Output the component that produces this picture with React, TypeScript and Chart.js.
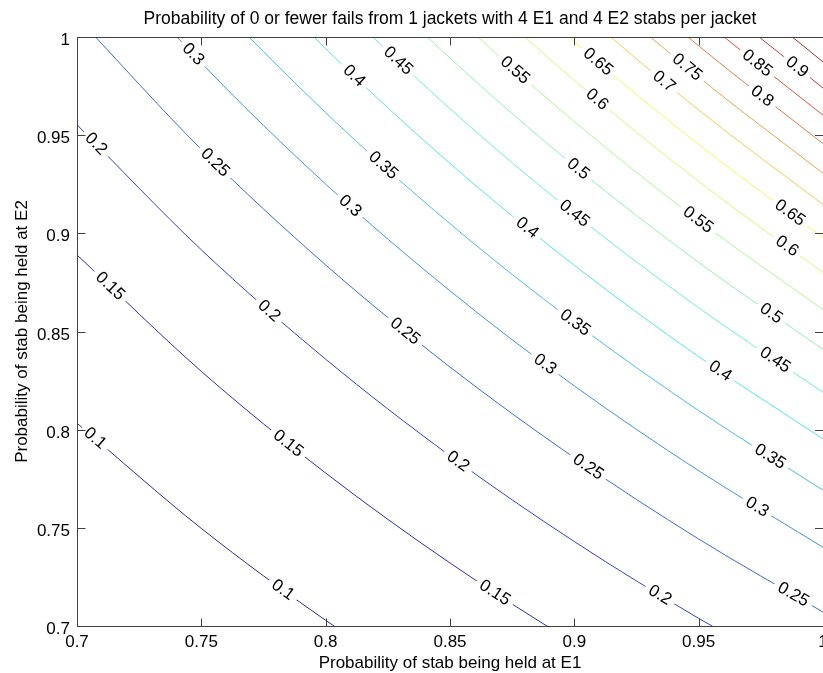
import React, { useEffect, useRef } from "react";
import { Chart, registerables } from "chart.js";

Chart.register(...registerables);

const TITLE = "Probability of 0 or fewer fails from 1 jackets with 4 E1 and 4 E2 stabs per jacket";
const X_TITLE = "Probability of stab being held at E1";
const Y_TITLE = "Probability of stab being held at E2";

const xTicks = [0.7, 0.75, 0.8, 0.85, 0.9, 0.95, 1];
const yTicks = [0.7, 0.75, 0.8, 0.85, 0.9, 0.95, 1];
const xTickLabels = ["0.7", "0.75", "0.8", "0.85", "0.9", "0.95", "1"];
const yTickLabels = ["0.7", "0.75", "0.8", "0.85", "0.9", "0.95", "1"];

// x positions (E1) at which each contour's E2 value was read
const xSamples = [0.7, 0.75, 0.8, 0.85, 0.9, 0.95, 1.0];

const levels = [0.1, 0.15, 0.2, 0.25, 0.3, 0.35, 0.4, 0.45, 0.5, 0.55, 0.6, 0.65, 0.7, 0.75, 0.8, 0.85, 0.9, 0.95];

// E2 value of each contour at the xSamples (values above 1 / below 0.7 lie outside the frame)
const c010 = [0.8033, 0.7497, 0.7029, 0.6615, 0.6248, 0.5919, 0.5623];
const c015 = [0.889, 0.8297, 0.7779, 0.7321, 0.6914, 0.6551, 0.6223];
const c020 = [0.9553, 0.8916, 0.8359, 0.7867, 0.743, 0.7039, 0.6687];
const c025 = [1.0101, 0.9428, 0.8839, 0.8319, 0.7857, 0.7443, 0.7071];
const c030 = [1.0573, 0.9868, 0.9251, 0.8707, 0.8223, 0.7791, 0.7401];
const c035 = [1.0989, 1.0256, 0.9615, 0.9049, 0.8547, 0.8097, 0.7692];
const c040 = [1.1361, 1.0604, 0.9941, 0.9356, 0.8837, 0.8372, 0.7953];
const c045 = [1.17, 1.092, 1.0238, 0.9635, 0.91, 0.8621, 0.819];
const c050 = [1.2013, 1.1212, 1.0511, 0.9893, 0.9343, 0.8852, 0.8409];
const c055 = [1.2303, 1.1483, 1.0765, 1.0132, 0.9569, 0.9065, 0.8612];
const c060 = [1.2573, 1.1735, 1.1001, 1.0354, 0.9779, 0.9264, 0.8801];
const c065 = [1.2827, 1.1972, 1.1224, 1.0564, 0.9977, 0.9452, 0.8979];
const c070 = [1.3067, 1.2196, 1.1434, 1.0761, 1.0163, 0.9628, 0.9147];
const c075 = [1.3294, 1.2408, 1.1633, 1.0948, 1.034, 0.9796, 0.9306];
const c080 = [1.351, 1.2609, 1.1821, 1.1126, 1.0508, 0.9955, 0.9457];
const c085 = [1.3717, 1.2803, 1.2003, 1.1296, 1.0669, 1.0107, 0.9602];
const c090 = [1.3914, 1.2987, 1.2175, 1.1459, 1.0822, 1.0253, 0.974];
const c095 = [1.4104, 1.3164, 1.2341, 1.1615, 1.097, 1.0393, 0.9873];
const contourValues = [c010, c015, c020, c025, c030, c035, c040, c045, c050, c055, c060, c065, c070, c075, c080, c085, c090, c095];

// inline contour labels: level and E1 position of label centre
const labelLevels = [
  0.3, 0.45, 0.55, 0.65, 0.75, 0.85, 0.9, 0.4, 0.6, 0.7, 0.8,
  0.2, 0.25, 0.35, 0.5, 0.45, 0.55, 0.65, 0.6, 0.3, 0.4,
  0.15, 0.2, 0.25, 0.35, 0.5, 0.45, 0.3, 0.4,
  0.1, 0.15, 0.2, 0.25, 0.35, 0.3,
  0.1, 0.15, 0.2, 0.25,
];
const labelX = [
  0.7467, 0.8291, 0.8761, 0.9095, 0.9453, 0.9735, 0.9895, 0.8114, 0.9091, 0.936, 0.9755,
  0.7076, 0.7555, 0.8231, 0.9015, 0.9, 0.9497, 0.9867, 0.9855, 0.8098, 0.881,
  0.7133, 0.7772, 0.8319, 0.9003, 0.9791, 0.9807, 0.8882, 0.9586,
  0.7072, 0.7849, 0.8532, 0.9055, 0.9787, 0.9735,
  0.7828, 0.868, 0.9344, 0.988,
];

const Z_MIN = 0.0576;
const Z_MAX = 1;

function jet(v: number): string {
  const c = (t: number) => Math.max(0, Math.min(1, t));
  const r = c(1.5 - Math.abs(4 * v - 3)) * 255;
  const g = c(1.5 - Math.abs(4 * v - 2)) * 255;
  const b = c(1.5 - Math.abs(4 * v - 1)) * 255;
  // thin 1px lines in the reference look a little washed out: desaturate slightly, lighten a little
  const lum = 0.299 * r + 0.587 * g + 0.114 * b;
  const f = (k: number) => Math.round((lum + (k - lum) * 0.7) * 0.85 + 255 * 0.15);
  return `rgb(${f(r)},${f(g)},${f(b)})`;
}

const FONT = '"Liberation Sans", Arial, Helvetica, sans-serif';

const decorPlugin = {
  id: "decor",
  afterDatasetsDraw(chart: any) {
    const ctx: CanvasRenderingContext2D = chart.ctx;
    const { left, right, top, bottom } = chart.chartArea;
    const xs = chart.scales.x;
    const ys = chart.scales.y;
    ctx.save();

    // contour labels
    ctx.font = `17px ${FONT}`;
    labelLevels.forEach((lv, k) => {
      const di = levels.indexOf(lv);
      const pts: any[] = chart.getDatasetMeta(di).data;
      const px = xs.getPixelForValue(labelX[k]);
      let j = 0;
      while (j < pts.length - 2 && pts[j + 1].x < px) j++;
      const a = pts[j];
      const b = pts[j + 1];
      const P0 = [a.x, a.y];
      const P1 = [a.cp2x ?? a.x + (b.x - a.x) / 3, a.cp2y ?? a.y + (b.y - a.y) / 3];
      const P2 = [b.cp1x ?? b.x - (b.x - a.x) / 3, b.cp1y ?? b.y - (b.y - a.y) / 3];
      const P3 = [b.x, b.y];
      const bz = (t: number, i: number) =>
        (1 - t) ** 3 * P0[i] + 3 * (1 - t) ** 2 * t * P1[i] + 3 * (1 - t) * t * t * P2[i] + t ** 3 * P3[i];
      const dbz = (t: number, i: number) =>
        3 * (1 - t) ** 2 * (P1[i] - P0[i]) + 6 * (1 - t) * t * (P2[i] - P1[i]) + 3 * t * t * (P3[i] - P2[i]);
      let lo = 0;
      let hi = 1;
      for (let it = 0; it < 50; it++) {
        const mid = (lo + hi) / 2;
        if (bz(mid, 0) < px) lo = mid;
        else hi = mid;
      }
      const t = (lo + hi) / 2;
      const py = bz(t, 1);
      const ang = Math.atan2(dbz(t, 1), dbz(t, 0));
      const text = String(lv);
      const w = ctx.measureText(text).width;
      ctx.save();
      ctx.translate(px, py);
      ctx.rotate(ang);
      ctx.fillStyle = "#ffffff";
      ctx.fillRect(-w / 2 - 5, -6, w + 10, 12);
      ctx.fillStyle = "#000000";
      ctx.textAlign = "center";
      ctx.textBaseline = "middle";
      ctx.fillText(text, 0, 0);
      ctx.restore();
    });

    // axes box and ticks
    ctx.strokeStyle = "#404040";
    ctx.lineWidth = 1;
    const L = Math.round(left) + 0.5;
    const R = Math.round(right) - 0.5;
    const T = Math.round(top) + 0.5;
    const B = Math.round(bottom) + 0.5;
    ctx.beginPath();
    ctx.moveTo(L, T);
    ctx.lineTo(R + 1, T);
    ctx.moveTo(L, B);
    ctx.lineTo(R + 1, B);
    ctx.moveTo(L, T);
    ctx.lineTo(L, B);
    const TL = 8;
    xTicks.forEach((v) => {
      const x = Math.round(xs.getPixelForValue(v)) + 0.5;
      ctx.moveTo(x, B);
      ctx.lineTo(x, B - TL);
      ctx.moveTo(x, T);
      ctx.lineTo(x, T + TL);
    });
    yTicks.forEach((v) => {
      const y = Math.round(ys.getPixelForValue(v)) + 0.5;
      ctx.moveTo(L, y);
      ctx.lineTo(L + TL, y);
      ctx.moveTo(right, y);
      ctx.lineTo(right - TL, y);
    });
    ctx.stroke();

    ctx.fillStyle = "#000000";
    ctx.font = `17px ${FONT}`;
    ctx.textBaseline = "alphabetic";
    ctx.textAlign = "center";
    xTicks.forEach((v, i) => {
      ctx.fillText(xTickLabels[i], xs.getPixelForValue(v), 647);
    });
    ctx.textAlign = "right";
    yTicks.forEach((v, i) => {
      ctx.fillText(yTickLabels[i], 70, ys.getPixelForValue(v) + 8);
    });

    ctx.textAlign = "center";
    ctx.fillText(X_TITLE, (left + right) / 2, 668);
    ctx.font = `17.5px ${FONT}`;
    ctx.fillText(TITLE, (left + right) / 2, 24);
    ctx.font = `17px ${FONT}`;
    ctx.save();
    ctx.translate(27, (top + bottom) / 2);
    ctx.rotate(-Math.PI / 2);
    ctx.fillText(Y_TITLE, 0, 0);
    ctx.restore();

    ctx.restore();
  },
};

export default function App() {
  const ref = useRef<HTMLCanvasElement | null>(null);
  useEffect(() => {
    if (!ref.current) return;
    const datasets = levels.map((lv, i) => ({
      label: String(lv),
      data: xSamples.map((x, k) => ({ x, y: contourValues[i][k] })),
      borderColor: jet((lv - Z_MIN) / (Z_MAX - Z_MIN)),
      borderWidth: 1,
      pointRadius: 0,
      fill: false,
      cubicInterpolationMode: "monotone" as const,
      capBezierPoints: false,
      clip: 0,
    }));
    const chart = new Chart(ref.current, {
      type: "line",
      data: { datasets },
      options: {
        animation: false,
        responsive: false,
        devicePixelRatio: 1,
        layout: { padding: { left: 77, right: 0, top: 37, bottom: 47 } },
        plugins: {
          legend: { display: false },
          title: { display: false },
          tooltip: { enabled: false },
        },
        events: [],
        scales: {
          x: { type: "linear", min: 0.7, max: 1, display: false },
          y: { type: "linear", min: 0.7, max: 1, display: false },
        },
      },
      plugins: [decorPlugin],
    });
    return () => chart.destroy();
  }, []);
  return (
    <div style={{ position: "absolute", left: 0, top: 0, width: 823, height: 673, background: "#ffffff" }}>
      <canvas ref={ref} width={823} height={673} />
    </div>
  );
}
